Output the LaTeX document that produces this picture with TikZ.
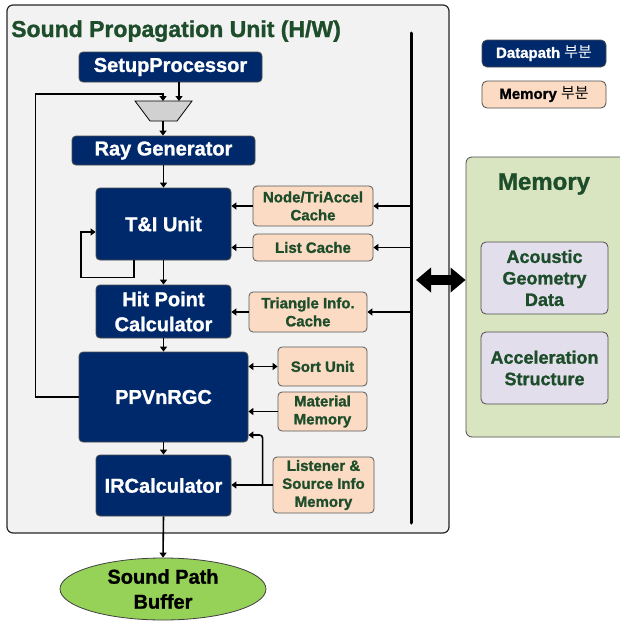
\documentclass[tikz,border=0pt]{standalone}
\usepackage{fontspec}
\setmainfont{Liberation Sans}[BoldFeatures={FakeBold=1.2}]
\newfontfamily\krfont{Noto Sans CJK KR}
\usetikzlibrary{arrows.meta,shapes.geometric}

\definecolor{navy}{HTML}{00296B}
\definecolor{peach}{HTML}{FBDBC3}
\definecolor{dkgreen}{HTML}{1D4D2A}
\definecolor{panel}{HTML}{F2F2F2}
\definecolor{memgreen}{HTML}{D9E5C1}
\definecolor{lavender}{HTML}{E2DEEB}
\definecolor{bufgreen}{HTML}{97D258}

\begin{document}
\begin{tikzpicture}[x=1pt,y=-1pt,
  dp/.style={draw=black!70, line width=0.8pt, fill=navy, rounded corners=4pt,
    text=white, align=center, inner sep=0pt,
    font=\bfseries\fontsize{20}{25}\selectfont},
  mem/.style={draw=black!65, line width=0.8pt, fill=peach, rounded corners=4pt,
    text=dkgreen, align=center, inner sep=0pt,
    font=\bfseries\fontsize{15}{18}\selectfont},
  store/.style={draw=black!70, line width=0.8pt, fill=lavender, rounded corners=5pt,
    text=dkgreen, align=center, inner sep=0pt, minimum width=127, minimum height=72,
    font=\bfseries\fontsize{18}{21.5}\selectfont},
  wire/.style={line width=1.6pt, -{Triangle[length=5pt,width=7pt]}},
]
\useasboundingbox (0,0) rectangle (620,621);

% hardware unit frame and title
\node[draw=black!85, line width=1.2pt, fill=panel, rounded corners=6pt,
  minimum width=442, minimum height=528, inner sep=0] (unit) at (228,269) {};
\node[anchor=base west, inner sep=0, text=dkgreen,
  font=\bfseries\fontsize{23}{27}\selectfont] (title) at (11,37)
  {Sound Propagation Unit (H/W)};

% internal bus
\coordinate (bus) at (411,33);
\coordinate (busend) at (411,523);
\draw[line width=3pt, line cap=round] (bus) -- (busend);

% datapath blocks
\node[dp, minimum width=183, minimum height=30] (setup) at (170.5,67) {SetupProcessor};
\node[dp, minimum width=183, minimum height=29] (raygen) at (163.5,150.5) {Ray Generator};
\node[dp, minimum width=135, minimum height=72] (ti) at (163.5,224) {T\&I Unit};
\node[dp, minimum width=135, minimum height=53] (hit) at (163.5,311.5) {Hit Point\\Calculator};
\node[dp, minimum width=169, minimum height=90] (ppv) at (163.5,397) {PPVnRGC};
\node[dp, minimum width=135, minimum height=61] (irc) at (163.5,485.5) {IRCalculator};

% multiplexer
\coordinate (muxinA) at (163,101);
\coordinate (muxinB) at (179,101);
\coordinate (muxout) at (163,121);
\draw[line width=0.8pt, fill=black!18] (135,101) -- (192,101) -- (177,121) -- (150,121) -- cycle;

% memory blocks inside the unit
\node[mem, minimum width=120, minimum height=40] (nodecache) at (313,206) {Node/TriAccel\\Cache};
\node[mem, minimum width=120, minimum height=27] (listcache) at (313,247.5) {List Cache};
\node[mem, minimum width=118, minimum height=40] (tricache) at (308,312) {Triangle Info.\\Cache};
\node[mem, minimum width=89, minimum height=39] (sortunit) at (322.5,366.5) {Sort Unit};
\node[mem, minimum width=89, minimum height=39] (material) at (322.5,411.5) {Material\\Memory};
\node[mem, minimum width=101, minimum height=56] (listener) at (323.5,485) {Listener \&\\Source Info\\Memory};

% output buffer
\node[ellipse, draw=black!75, line width=0.8pt, fill=bufgreen, minimum width=206,
  minimum height=62, inner sep=0, align=center,
  font=\bfseries\fontsize{20}{25}\selectfont] (buffer) at (163,589) {Sound Path\\Buffer};

% datapath connections
\draw[wire] (setup.south -| muxinB) -- (muxinB);
\draw[wire] (muxout) -- (raygen.north -| muxout);
\draw[wire] (raygen.south) -- (ti.north);
\draw[wire] ([xshift=-29.5pt]ti.south) -- ++(0,17) -- ++(-53,0) |- ([yshift=-8pt]ti.west);
\draw[wire] (ti.south) -- (hit.north);
\draw[wire] (hit.south) -- (ppv.north);
\draw[wire] (ppv.south) -- (irc.north);
\draw[wire] (irc.south) -- (buffer.north);
\draw[wire] (ppv.west) -- ++(-43,0) |- ([yshift=7pt]muxinA) -- (muxinA);

% memory connections
\draw[wire] (nodecache.east -| bus) -- (nodecache.east);
\draw[wire] (nodecache.west) -- (nodecache.west -| ti.east);
\draw[wire] (listcache.east -| bus) -- (listcache.east);
\draw[wire] (listcache.west) -- (listcache.west -| ti.east);
\draw[wire] (tricache.east -| bus) -- (tricache.east);
\draw[wire] (tricache.west) -- (tricache.west -| hit.east);
\draw[wire, {Triangle[length=5pt,width=7pt]}-{Triangle[length=5pt,width=7pt]}]
  (sortunit.west -| ppv.east) -- (sortunit.west);
\draw[wire] (material.west) -- (material.west -| ppv.east);
\draw[wire] (listener.west) -- (listener.west -| irc.east);
\draw[wire, rounded corners=3pt] ([xshift=-10pt]listener.west) |- ([yshift=-38pt]ppv.east);

% external memory
\node[draw=black!70, line width=0.8pt, fill=memgreen, rounded corners=6pt,
  minimum width=164, minimum height=280, inner sep=0] (membox) at (548,297) {};
\node[text=dkgreen, font=\bfseries\fontsize{24}{28}\selectfont, inner sep=0]
  (memtitle) at (544,184) {Memory};
\node[store] (geom) at (544.5,278) {Acoustic\\Geometry\\Data};
\node[store] (accel) at (544.5,368) {Acceleration\\Structure};

% bus to external memory link
\coordinate (linkL) at (416,280);
\draw[line width=10pt, {Triangle[length=15pt,width=24pt]}-{Triangle[length=15pt,width=24pt]}]
  (linkL) -- (linkL -| membox.west);

% legend
\node[draw=black!70, line width=0.8pt, fill=navy, rounded corners=5pt, text=white,
  minimum width=124, minimum height=27, inner sep=0,
  font=\bfseries\fontsize{15}{18}\selectfont] (legdp) at (544,53.5)
  {Datapath {\mdseries\krfont 부분}};
\node[draw=black!70, line width=0.8pt, fill=peach, rounded corners=5pt, text=black,
  minimum width=124, minimum height=27, inner sep=0,
  font=\bfseries\fontsize{15}{18}\selectfont] (legmem) at (544,94.5)
  {Memory {\mdseries\krfont 부분}};
\end{tikzpicture}
\end{document}
